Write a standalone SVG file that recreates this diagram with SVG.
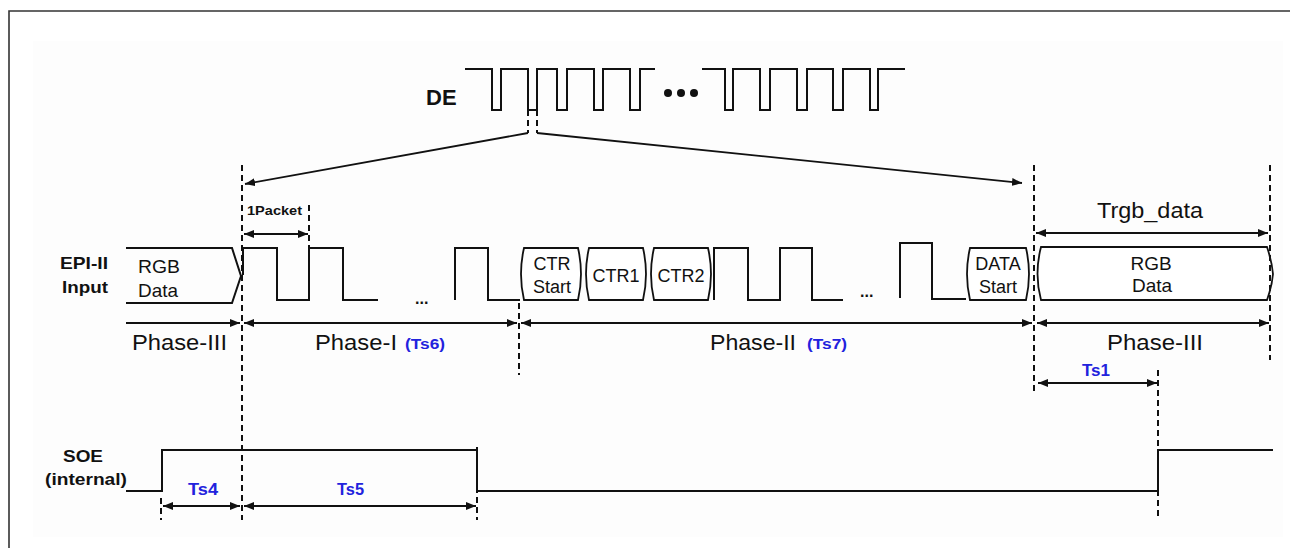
<svg xmlns="http://www.w3.org/2000/svg" width="1290" height="548" viewBox="0 0 1290 548">
<style>
.w{fill:none;stroke:#111;stroke-width:2;stroke-linejoin:miter}
.bx{fill:#fff;stroke:#111;stroke-width:1.8}
.d{fill:none;stroke:#111;stroke-width:2;stroke-dasharray:6 4}
.a{fill:none;stroke:#111;stroke-width:1.8}
.t{font-family:"Liberation Sans",Arial,sans-serif;fill:#111}
.b{font-family:"Liberation Sans",Arial,sans-serif;font-weight:bold;fill:#111}
.bl{font-family:"Liberation Sans",Arial,sans-serif;font-weight:bold;fill:#2222dd}
</style>
<defs>
<marker id="ah" viewBox="0 0 10 8" refX="10" refY="4" markerWidth="10" markerHeight="8" orient="auto-start-reverse" markerUnits="userSpaceOnUse">
<path d="M0,0 L10,4 L0,8 z" fill="#111"/>
</marker>
</defs>
<rect x="0" y="0" width="1290" height="548" fill="#fff"/>
<rect x="33" y="41" width="1250" height="496" fill="#fdfdfd"/>
<path d="M9,548 V11 H1290" fill="none" stroke="#333" stroke-width="1.6"/>

<g id="de">
<text class="b" x="426" y="105" font-size="22">DE</text>
<path class="w" d="M465,69 H492 V110 H501 V69 H528 V110 H537 V69 H557 V110 H567 V69 H594 V110 H603 V69 H630 V110 H640 V69 H655"/>
<circle cx="668" cy="93" r="4" fill="#111"/>
<circle cx="681" cy="93" r="4" fill="#111"/>
<circle cx="694" cy="93" r="4" fill="#111"/>
<path class="w" d="M702,69 H725 V110 H733 V69 H760 V110 H770 V69 H797 V110 H807 V69 H833 V110 H843 V69 H870 V110 H878 V69 H905"/>
</g>

<g id="epi">
<text class="b" x="60" y="269" font-size="17" textLength="48" lengthAdjust="spacingAndGlyphs">EPI-II</text>
<text class="b" x="62" y="293" font-size="17" textLength="46" lengthAdjust="spacingAndGlyphs">Input</text>
<path class="w" d="M126,248 H232 L241,276 L232,303 H126"/>
<text class="t" x="138" y="273" font-size="19" textLength="42" lengthAdjust="spacingAndGlyphs">RGB</text>
<text class="t" x="138" y="297" font-size="19" textLength="40" lengthAdjust="spacingAndGlyphs">Data</text>
<path class="w" d="M243,275 V248 H277 V300 H309 V248 H343 V300 H378"/>
<text class="b" x="415" y="304" font-size="16">...</text>
<path class="w" d="M455,300 V248 H488 V300 H520"/>
<path class="bx" d="M524,248 H578 Q584,274 578,300 H524 Q518,274 524,248 Z"/>
<text class="t" x="552" y="270" font-size="18" text-anchor="middle">CTR</text>
<text class="t" x="552" y="293" font-size="18" text-anchor="middle">Start</text>
<path class="bx" d="M589,248 H643 Q649,274 643,300 H589 Q583,274 589,248 Z"/>
<text class="t" x="616" y="282" font-size="18" text-anchor="middle">CTR1</text>
<path class="bx" d="M654,248 H708 Q714,274 708,300 H654 Q648,274 654,248 Z"/>
<text class="t" x="681" y="282" font-size="18" text-anchor="middle">CTR2</text>
<path class="w" d="M714,300 V248 H748 V300 H780 V248 H812 V300 H843"/>
<text class="b" x="860" y="297" font-size="16">...</text>
<path class="w" d="M900,298 V243 H932 V299 H966"/>
<path class="bx" d="M970,248 H1026 Q1032,274 1026,300 H970 Q964,274 970,248 Z"/>
<text class="t" x="998" y="270" font-size="18" text-anchor="middle">DATA</text>
<text class="t" x="998" y="293" font-size="18" text-anchor="middle">Start</text>
<path class="bx" d="M1041,247 H1267 Q1272,262 1273,274 Q1272,286 1267,300 H1041 Q1034,274 1041,247 Z"/>
<text class="t" x="1151" y="270" font-size="19" text-anchor="middle">RGB</text>
<text class="t" x="1152" y="292" font-size="19" text-anchor="middle">Data</text>
</g>

<g id="soe">
<text class="b" x="63" y="462" font-size="17" textLength="40" lengthAdjust="spacingAndGlyphs">SOE</text>
<text class="b" x="45" y="485" font-size="17" textLength="82" lengthAdjust="spacingAndGlyphs">(internal)</text>
<path class="w" d="M126,491 H162 V450 H477 V491 H1158 V450 H1273"/>
</g>

<g id="labels">
<text class="b" x="247" y="215" font-size="12" textLength="55" lengthAdjust="spacingAndGlyphs">1Packet</text>
<text class="t" x="1097" y="218" font-size="22" textLength="106" lengthAdjust="spacingAndGlyphs">Trgb_data</text>
<text class="t" x="132" y="350" font-size="22" textLength="95" lengthAdjust="spacingAndGlyphs">Phase-III</text>
<text class="t" x="315" y="350" font-size="22" textLength="82" lengthAdjust="spacingAndGlyphs">Phase-I</text>
<text class="bl" x="405" y="349" font-size="14" textLength="40" lengthAdjust="spacingAndGlyphs">(Ts6)</text>
<text class="t" x="710" y="350" font-size="22" textLength="86" lengthAdjust="spacingAndGlyphs">Phase-II</text>
<text class="bl" x="807" y="349" font-size="14" textLength="40" lengthAdjust="spacingAndGlyphs">(Ts7)</text>
<text class="t" x="1107" y="350" font-size="22" textLength="96" lengthAdjust="spacingAndGlyphs">Phase-III</text>
<text class="bl" x="1082" y="376" font-size="16" textLength="28" lengthAdjust="spacingAndGlyphs">Ts1</text>
<text class="bl" x="188" y="495" font-size="16" textLength="30" lengthAdjust="spacingAndGlyphs">Ts4</text>
<text class="bl" x="337" y="495" font-size="16" textLength="27" lengthAdjust="spacingAndGlyphs">Ts5</text>
</g>

<g id="connectors">
<path class="d" d="M528,70 V133"/>
<path class="d" d="M537,70 V133"/>
<path class="d" d="M242,165 V520"/>
<path class="d" d="M309,205 V247"/>
<path class="d" d="M519,303 V375"/>
<path class="d" d="M1034,165 V393"/>
<path class="d" d="M1270,165 V360"/>
<path class="d" d="M1158,370 V520"/>
<path class="d" d="M161,498 V520"/>
<path class="d" d="M477,447 V520"/>
<path class="a" d="M528,133 L245,184" marker-end="url(#ah)"/>
<path class="a" d="M537,133 L1022,183" marker-end="url(#ah)"/>
<path class="a" d="M244,234 H308" marker-start="url(#ah)" marker-end="url(#ah)"/>
<path class="a" d="M1036,233 H1268" marker-start="url(#ah)" marker-end="url(#ah)"/>
<path class="a" d="M126,323 H240" marker-end="url(#ah)"/>
<path class="a" d="M244,323 H517" marker-start="url(#ah)" marker-end="url(#ah)"/>
<path class="a" d="M521,323 H1032" marker-start="url(#ah)" marker-end="url(#ah)"/>
<path class="a" d="M1037,323 H1269" marker-start="url(#ah)" marker-end="url(#ah)"/>
<path class="a" d="M1038,383 H1157" marker-start="url(#ah)" marker-end="url(#ah)"/>
<path class="a" d="M163,506 H240" marker-start="url(#ah)" marker-end="url(#ah)"/>
<path class="a" d="M244,506 H476" marker-start="url(#ah)" marker-end="url(#ah)"/>
</g>
</svg>
